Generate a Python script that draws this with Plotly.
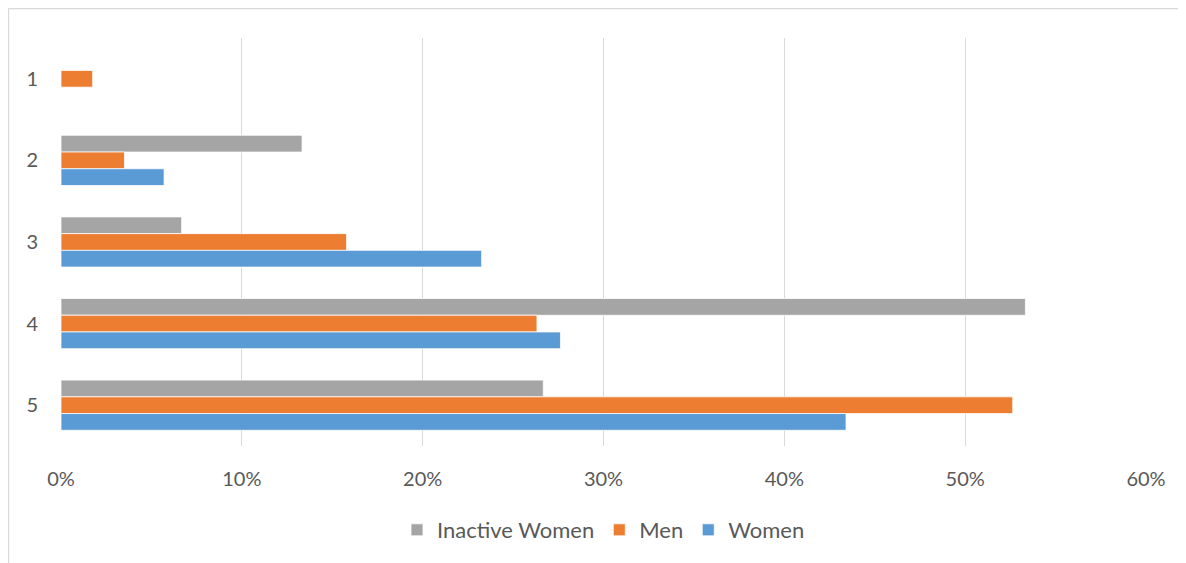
import plotly.graph_objects as go

categories = ["1", "2", "3", "4", "5"]
inactive_women = [0.0, 13.33, 6.67, 53.33, 26.67]
men = [1.75, 3.51, 15.79, 26.32, 52.63]
women = [0.0, 5.70, 23.26, 27.62, 43.41]
x_ticks = [0, 10, 20, 30, 40, 50, 60]
x_tick_labels = [f"{v}%" for v in x_ticks]

series = [
    ("Inactive Women", inactive_women, "#A5A5A5"),
    ("Men", men, "#ED7D31"),
    ("Women", women, "#5B9BD5"),
]

fig = go.Figure()
for name, vals, color in series:
    fig.add_trace(go.Bar(
        y=categories, x=vals, name=name, orientation="h",
        marker=dict(color=color, line=dict(color="white", width=0.75)),
    ))

font = "Lato, Calibri, Carlito, sans-serif"
OFF = 8  # page body margin
W, H = 1186 - OFF, 563 - OFF
L, T = 61 - OFF, 38 - OFF
R = W - (1146 - OFF)
B = H - (446 - OFF)
pw = W - L - R
ph = H - T - B

bx0 = (0.5 - L) / pw
bx1 = (W + 10 - L) / pw
by0 = (H - B - (H + 10)) / ph
by1 = (H - B - 0.5) / ph
border = dict(color="#D9D9D9", width=1.3)

fig.update_layout(
    width=W, height=H,
    margin=dict(l=L, r=R, t=T, b=B),
    barmode="group", bargap=0.385, bargroupgap=0,
    plot_bgcolor="white", paper_bgcolor="white",
    font=dict(family=font, size=20, color="#595959"),
    xaxis=dict(
        range=[0, 60], tickvals=x_ticks, ticktext=x_tick_labels,
        showgrid=True, gridcolor="#D9D9D9", gridwidth=1.3,
        zeroline=False, showline=False, ticks="", ticklabelstandoff=19,
        tickfont=dict(size=20, color="#595959", family=font),
    ),
    yaxis=dict(
        categoryorder="array", categoryarray=categories, autorange="reversed",
        showgrid=False, zeroline=False, showline=False, ticks="",
        ticklabelstandoff=22,
        tickfont=dict(size=20, color="#595959", family=font),
    ),
    legend=dict(
        orientation="h", x=0.5, xanchor="center",
        y=(H - B - (530 - OFF)) / ph, yanchor="middle",
        traceorder="normal", font=dict(size=22, color="#595959", family=font),
        itemwidth=30, bgcolor="rgba(0,0,0,0)",
    ),
    shapes=[
        dict(type="line", xref="paper", yref="paper", x0=bx0, x1=bx0, y0=by0, y1=by1,
             line=border, layer="below"),
        dict(type="line", xref="paper", yref="paper", x0=bx0, x1=bx1, y0=by1, y1=by1,
             line=border, layer="below"),
    ],
)

fig.write_html("out.html")
